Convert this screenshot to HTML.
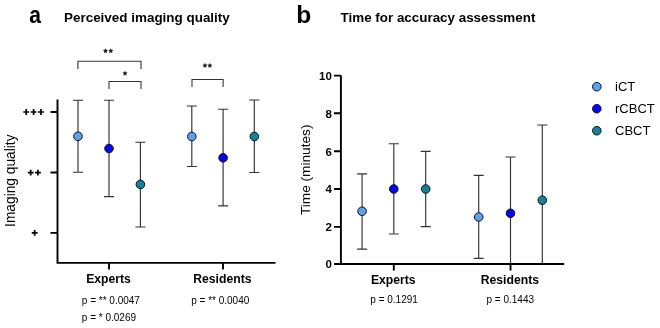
<!DOCTYPE html>
<html><head><meta charset="utf-8">
<style>
html,body{margin:0;padding:0;background:#fff;}
body{width:660px;height:328px;overflow:hidden;}
svg{display:block;will-change:transform;}
text{font-family:"Liberation Sans",sans-serif;fill:#000;}
.b{font-weight:bold;}
</style></head><body>
<svg width="660" height="328" viewBox="0 0 660 328">
<text transform="translate(29.3 22.9) scale(0.87 1)" class="b" font-size="24.2">a</text>
<text x="64" y="21.7" class="b" font-size="13.45">Perceived imaging quality</text>
<text x="296.3" y="22.7" class="b" font-size="24.5">b</text>
<text x="340.6" y="21.7" class="b" font-size="13.4">Time for accuracy assessment</text>

<g stroke="#000" stroke-width="1.9" fill="none">
  <path d="M57.5 99.5 V262.9 H275.5"/>
  <path d="M50.5 112 H57.5 M50.5 172.5 H57.5 M50.5 232.9 H57.5"/>
  <path d="M109 262.9 V269.5 M223 262.9 V269.5"/>
  <path d="M340.9 75.6 V264 H564.2"/>
  <path d="M334 264 H340.9 M334 75.6 H340.9 M334 113.3 H340.9 M334 151.3 H340.9 M334 189 H340.9 M334 226.9 H340.9"/>
  <path d="M393.8 264 V270.4 M510.5 264 V270.4"/>
</g>
<g stroke="#000" stroke-width="1.7" fill="none"><path d="M23.30 112 H29.10 M26.2 109.10 V114.90 M30.70 112 H36.50 M33.6 109.10 V114.90 M38.10 112 H43.90 M41.0 109.10 V114.90 M27.80 172.6 H33.60 M30.7 169.70 V175.50 M35.05 172.6 H40.85 M37.95 169.70 V175.50 M31.75 232.9 H37.55 M34.65 230.00 V235.80 "/></g>
<text transform="translate(15.1 180.7) rotate(-90)" font-size="13.75" text-anchor="middle">Imaging quality</text>
<text transform="translate(310.1 169.8) rotate(-90)" font-size="13.65" text-anchor="middle">Time (minutes)</text>

<g stroke="#333" stroke-width="1.1" fill="none">
  <path d="M77.9 69 V61.3 H141 V69"/>
  <path d="M109 89 V81.5 H141 V89"/>
  <path d="M192 87.1 V79.5 H223.1 V87.1"/>
</g>
<g fill="#222"><polygon points="105.50,48.25 106.29,49.86 108.07,50.12 106.78,51.37 107.09,53.13 105.50,52.30 103.91,53.13 104.22,51.37 102.93,50.12 104.71,49.86"/><polygon points="110.80,48.25 111.59,49.86 113.37,50.12 112.08,51.37 112.39,53.13 110.80,52.30 109.21,53.13 109.52,51.37 108.23,50.12 110.01,49.86"/><polygon points="125.00,70.75 125.79,72.36 127.57,72.62 126.28,73.87 126.59,75.63 125.00,74.80 123.41,75.63 123.72,73.87 122.43,72.62 124.21,72.36"/><polygon points="204.95,62.85 205.74,64.46 207.52,64.72 206.23,65.97 206.54,67.73 204.95,66.90 203.36,67.73 203.67,65.97 202.38,64.72 204.16,64.46"/><polygon points="209.85,62.85 210.64,64.46 212.42,64.72 211.13,65.97 211.44,67.73 209.85,66.90 208.26,67.73 208.57,65.97 207.28,64.72 209.06,64.46"/></g>

<g stroke="#333" stroke-width="1.15" fill="none"><path d="M78.0 100.2 V172.2 M73.0 100.2 H83.0 M73.0 172.2 H83.0 M109.0 100.2 V196.6 M104.0 100.2 H114.0 M104.0 196.6 H114.0 M140.4 142.2 V227.0 M135.4 142.2 H145.4 M135.4 227.0 H145.4 M191.8 106.0 V166.5 M186.8 106.0 H196.8 M186.8 166.5 H196.8 M223.1 109.2 V205.8 M218.1 109.2 H228.1 M218.1 205.8 H228.1 M254.3 100.0 V172.5 M249.3 100.0 H259.3 M249.3 172.5 H259.3 M362.1 173.9 V249.1 M357.1 173.9 H367.1 M357.1 249.1 H367.1 M393.8 143.7 V234.0 M388.8 143.7 H398.8 M388.8 234.0 H398.8 M425.7 151.4 V226.6 M420.7 151.4 H430.7 M420.7 226.6 H430.7 M478.7 175.4 V258.3 M473.7 175.4 H483.7 M473.7 258.3 H483.7 M510.5 157.0 V264.0 M505.5 157.0 H515.5 M542.3 125.0 V264.0 M537.3 125.0 H547.3 "/></g>
<g stroke="#111" stroke-width="1"><circle cx="78.0" cy="136.3" r="4.3" fill="#5aa2f0"/><circle cx="109.0" cy="148.5" r="4.3" fill="#0505ee"/><circle cx="140.4" cy="184.4" r="4.3" fill="#128398"/><circle cx="191.8" cy="136.5" r="4.3" fill="#5aa2f0"/><circle cx="223.1" cy="157.8" r="4.3" fill="#0505ee"/><circle cx="254.3" cy="136.5" r="4.3" fill="#128398"/><circle cx="362.1" cy="211.3" r="4.3" fill="#5aa2f0"/><circle cx="393.8" cy="189.0" r="4.3" fill="#0505ee"/><circle cx="425.7" cy="189.0" r="4.3" fill="#128398"/><circle cx="478.7" cy="217.0" r="4.3" fill="#5aa2f0"/><circle cx="510.5" cy="213.3" r="4.3" fill="#0505ee"/><circle cx="542.3" cy="200.2" r="4.3" fill="#128398"/><circle cx="596.8" cy="86.7" r="4.3" fill="#5aa2f0"/><circle cx="596.8" cy="108.7" r="4.3" fill="#0505ee"/><circle cx="596.8" cy="130.7" r="4.3" fill="#128398"/></g>

<g class="b" font-size="12.2" text-anchor="middle">
<text x="108.55" y="283">Experts</text>
<text x="222.4" y="283">Residents</text>
<text x="393.25" y="283.9">Experts</text>
<text x="509.9" y="283.9">Residents</text>
</g>
<g class="b" font-size="11.5" text-anchor="end">
<text x="331.8" y="79.8">10</text>
<text x="331.8" y="117.5">8</text>
<text x="331.8" y="155.5">6</text>
<text x="331.8" y="193.2">4</text>
<text x="331.8" y="231.1">2</text>
<text x="331.8" y="268.2">0</text>
</g>
<g font-size="10" fill="#2a2a2a">
<text x="81.8" y="303.6">p = ** 0.0047</text>
<text x="81.8" y="320.9">p = * 0.0269</text>
<text x="191.2" y="303.6">p = ** 0.0040</text>
<text x="370.3" y="302.9">p = 0.1291</text>
<text x="486.5" y="302.9">p = 0.1443</text>
</g>
<g font-size="13">
<text x="615" y="91.2">iCT</text>
<text x="615" y="113.2">rCBCT</text>
<text x="615" y="135.2">CBCT</text>
</g>
</svg>
</body></html>
